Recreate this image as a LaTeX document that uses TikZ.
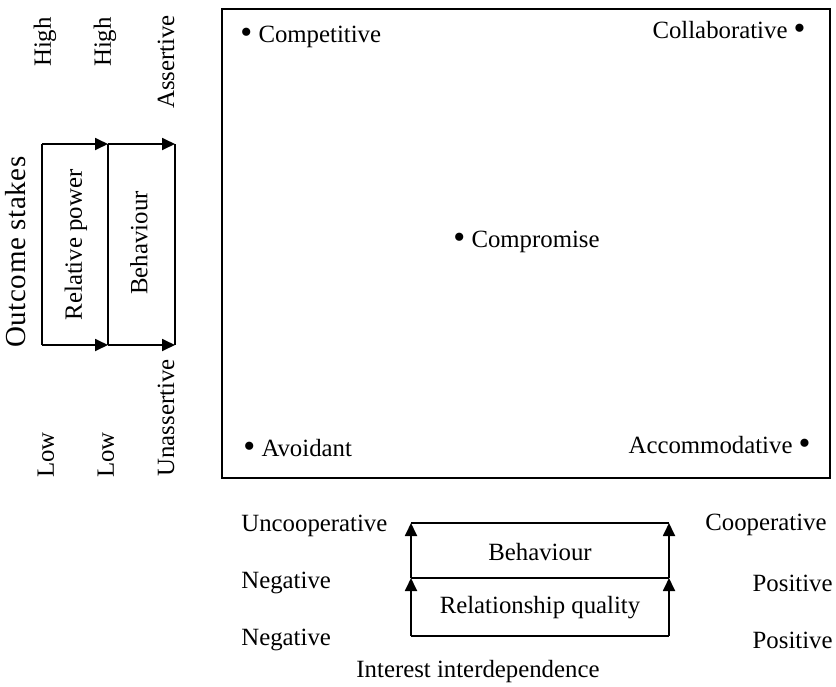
\documentclass[tikz,border=0pt]{standalone}
\usepackage{fontspec}
\setmainfont{Liberation Serif}
\usetikzlibrary{arrows.meta}
\newcommand{\bigdot}{\raisebox{-0.9pt}{\fontsize{17}{17}\selectfont\textbullet}}
\tikzset{
  lbl/.style={font=\fontsize{12.4}{14}\selectfont, inner sep=0pt},
  vlbl/.style={lbl, rotate=90},
  edge/.style={line width=0.9pt},
  scalearrow/.style={edge, -{Triangle[length=6.5pt,width=6pt]}}
}
\begin{document}
\begin{tikzpicture}[x=0.5pt,y=-0.5pt]
    \useasboundingbox (0,0) rectangle (836,686);

    % Strategy space
    \draw[line width=0.8pt] (222,9) rectangle (830,478);
    \node[lbl,anchor=base west] (compet) at (240,42) {\bigdot\ Competitive};
    \node[lbl,anchor=base east] (collab) at (806,38) {Collaborative \bigdot};
    \node[lbl,anchor=base west] (compro) at (453,247) {\bigdot\ Compromise};
    \node[lbl,anchor=base west] (avoid) at (243,456) {\bigdot\ Avoidant};
    \node[lbl,anchor=base east] (accom) at (811,453) {Accommodative \bigdot};

    % Left scales (vertical)
    \node[vlbl] (hione) at (45,42) {High};
    \node[vlbl] (hitwo) at (105,42) {High};
    \node[vlbl] (assert) at (166,62) {Assertive};
    \node[vlbl,font=\fontsize{14.5}{16}\selectfont] (stakes) at (16,252) {\addfontfeature{LetterSpace=2}Outcome stakes};
    \node[vlbl] (power) at (76,245) {Relative power};
    \node[vlbl] (behv) at (139,243) {Behaviour};
    \node[vlbl] (loone) at (46,455) {Low};
    \node[vlbl] (lotwo) at (106,455) {Low};
    \node[vlbl] (unassert) at (166,418) {Unassertive};

    \coordinate (pt) at (42,144);  \coordinate (pb) at (42,345);
    \coordinate (mt) at (108,144); \coordinate (mb) at (108,345);
    \coordinate (bt) at (175,144); \coordinate (bb) at (175,345);
    \draw[edge] (pb) -- (pt);
    \draw[scalearrow] (pt) -- (mt);
    \draw[scalearrow] (pb) -- (mb);
    \draw[edge] (mt) -- (mb);
    \draw[scalearrow] (mt) -- (bt);
    \draw[scalearrow] (mb) -- (bb);
    \draw[edge] (bt) -- (bb);

    % Bottom scales (horizontal)
    \node[lbl,anchor=west] (uncoop) at (241,526) {Uncooperative};
    \node[lbl,anchor=west] (negone) at (241,583) {Negative};
    \node[lbl,anchor=west] (negtwo) at (241,640) {Negative};
    \node[lbl,anchor=east] (coop) at (827,525) {Cooperative};
    \node[lbl,anchor=east] (posone) at (833,583) {Positive};
    \node[lbl,anchor=east] (postwo) at (833,640) {Positive};
    \node[lbl] (behh) at (540,552) {Behaviour};
    \node[lbl] (relq) at (540,608) {Relationship quality};
    \node[lbl] (inter) at (478,672) {Interest interdependence};

    \coordinate (ql) at (411,636); \coordinate (qr) at (669,636);
    \coordinate (rl) at (411,578); \coordinate (rr) at (669,578);
    \coordinate (cl) at (411,523); \coordinate (cr) at (669,523);
    \draw[edge] (ql) -- (qr);
    \draw[scalearrow] (ql) -- (rl);
    \draw[scalearrow] (qr) -- (rr);
    \draw[edge] (rl) -- (rr);
    \draw[scalearrow] (rl) -- (cl);
    \draw[scalearrow] (rr) -- (cr);
    \draw[edge] (cl) -- (cr);
\end{tikzpicture}
\end{document}
